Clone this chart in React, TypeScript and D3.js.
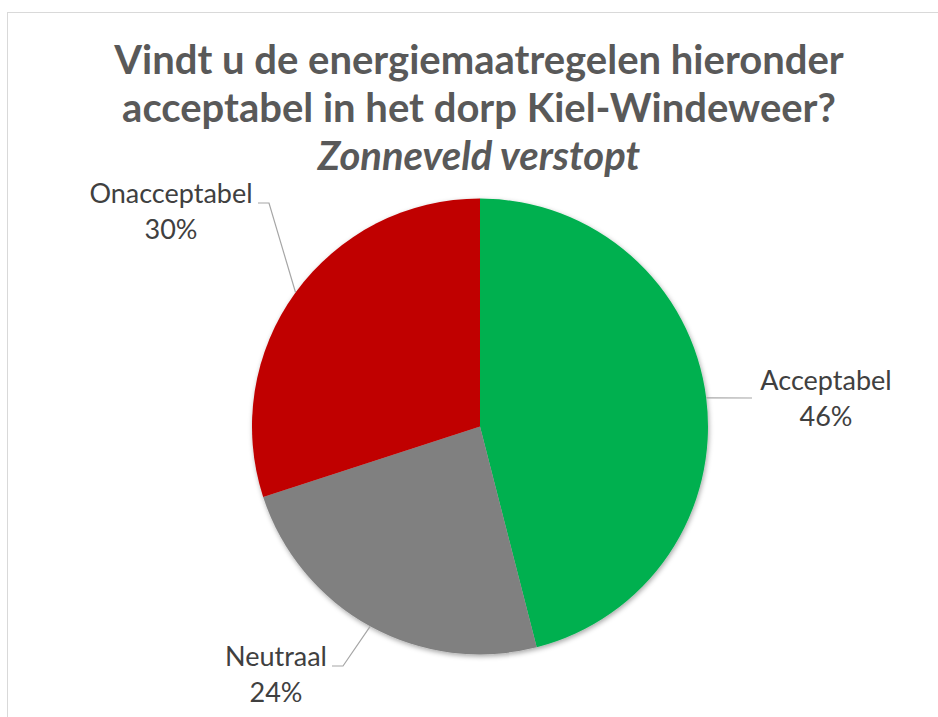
import React, { useEffect, useRef } from 'react'
import * as d3 from 'd3'

const categories = ['Acceptabel', 'Neutraal', 'Onacceptabel']
const values = [46, 24, 30]
const colors = ['#00B050', '#808080', '#C00000']
const titleLines = ['Vindt u de energiemaatregelen hieronder', 'acceptabel in het dorp Kiel-Windeweer?']
const subtitle = 'Zonneveld verstopt'

// label placement (layout only): text centre, and leader line elbow / end
const labelLayout = [
  { x: 826, y: 390, elbow: null, end: [752, 398] },
  { x: 276, y: 666, elbow: [343, 666], end: [332, 666] },
  { x: 171, y: 203, elbow: [269, 203], end: [258, 203] },
]

const W = 938
const H = 717

export default function App() {
  const svgRef = useRef<SVGSVGElement | null>(null)

  useEffect(() => {
    if (!svgRef.current) return
    const svg = d3.select(svgRef.current)
    svg.selectAll('*').remove()

    const cx = 480
    const cy = 426.5
    const radius = 228

    // shadow
    const defs = svg.append('defs')
    const filter = defs.append('filter').attr('id', 'shadow')
      .attr('x', '-10%').attr('y', '-10%').attr('width', '120%').attr('height', '120%')
    filter.append('feDropShadow')
      .attr('dx', 1).attr('dy', 2).attr('stdDeviation', 2.5)
      .attr('flood-color', '#000').attr('flood-opacity', 0.35)

    // chart area border
    svg.append('rect')
      .attr('x', 7.5).attr('y', 12.5)
      .attr('width', W + 20).attr('height', H + 20)
      .attr('fill', 'white')
      .attr('stroke', '#d9d9d9')
      .attr('stroke-width', 1)

    // title
    const title = svg.append('g')
      .attr('font-family', 'Lato, "Open Sans", sans-serif')
      .attr('font-weight', 'bold')
      .attr('fill', '#595959')
      .attr('text-anchor', 'middle')
      .attr('font-size', '40px')

    title.selectAll('text.line')
      .data(titleLines)
      .join('text')
      .attr('class', 'line')
      .attr('x', 479)
      .attr('y', (d, i) => 74 + i * 48)
      .text(d => d)

    title.append('text')
      .attr('x', 479)
      .attr('y', 170)
      .attr('font-style', 'italic')
      .text(subtitle)

    const data = categories.map((name, i) => ({ name, value: values[i], color: colors[i], layout: labelLayout[i] }))

    const pie = d3.pie<typeof data[number]>()
      .value(d => d.value)
      .sort(null)

    const arc = d3.arc<d3.PieArcDatum<typeof data[number]>>()
      .innerRadius(0)
      .outerRadius(radius)

    const edgeArc = d3.arc<d3.PieArcDatum<typeof data[number]>>()
      .innerRadius(radius)
      .outerRadius(radius)

    const arcs = pie(data)

    const g = svg.append('g')
      .attr('transform', `translate(${cx},${cy})`)

    g.append('g')
      .attr('filter', 'url(#shadow)')
      .selectAll('path')
      .data(arcs)
      .join('path')
      .attr('d', arc)
      .attr('fill', d => d.data.color)

    // leader lines
    svg.selectAll('path.leader')
      .data(arcs)
      .join('path')
      .attr('class', 'leader')
      .attr('fill', 'none')
      .attr('stroke', '#a6a6a6')
      .attr('stroke-width', 1.2)
      .attr('d', d => {
        const [ex, ey] = edgeArc.centroid(d)
        const pts: [number, number][] = [[cx + ex, cy + ey]]
        if (d.data.layout.elbow) pts.push(d.data.layout.elbow as [number, number])
        pts.push(d.data.layout.end as [number, number])
        return d3.line()(pts)
      })

    // labels
    const labels = svg.selectAll('g.label')
      .data(arcs)
      .join('g')
      .attr('class', 'label')
      .attr('font-family', 'Lato, "Open Sans", sans-serif')
      .attr('font-size', '27px')
      .attr('fill', '#404040')
      .attr('text-anchor', 'middle')

    labels.append('text')
      .attr('x', d => d.data.layout.x)
      .attr('y', d => d.data.layout.y)
      .text(d => d.data.name)

    labels.append('text')
      .attr('x', d => d.data.layout.x)
      .attr('y', d => d.data.layout.y + 36)
      .text(d => `${d.data.value}%`)
  }, [])

  return (
    <svg
      ref={svgRef}
      width={W}
      height={H}
      style={{ position: 'absolute', left: 0, top: 0, background: 'white' }}
    ></svg>
  )
}
